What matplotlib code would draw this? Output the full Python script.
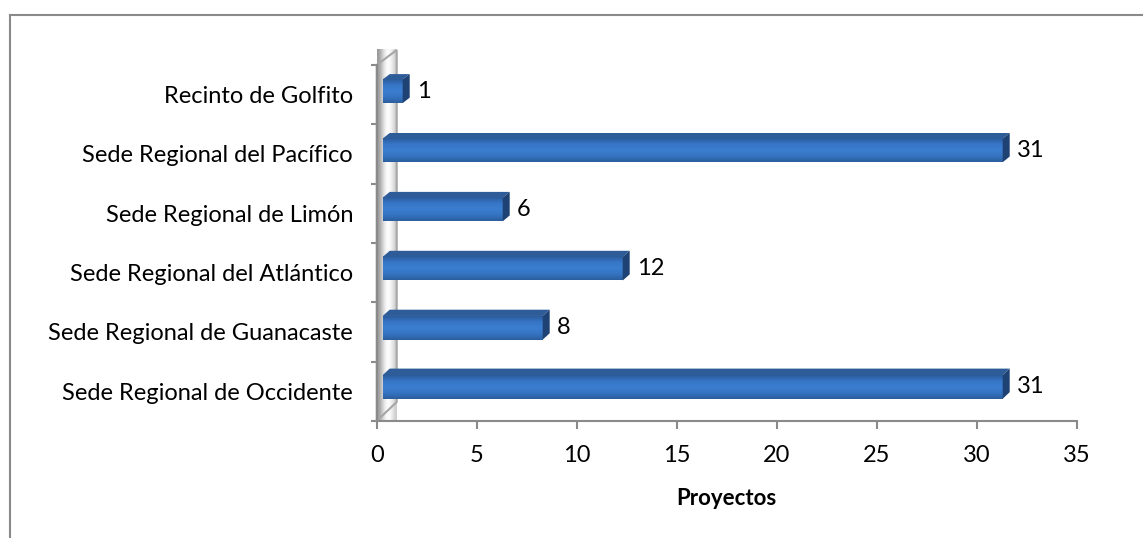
import numpy as np
import matplotlib
matplotlib.use('Agg')
import matplotlib.pyplot as plt
from matplotlib.patches import Polygon
from matplotlib.lines import Line2D
from matplotlib.colors import LinearSegmentedColormap

# ── Data ─────────────────────────────────────────────────────────────────────
categories = ['Sede Regional de Occidente', 'Sede Regional de Guanacaste',
              'Sede Regional del Atlántico', 'Sede Regional de Limón',
              'Sede Regional del Pacífico', 'Recinto de Golfito']
proyectos = [31, 8, 12, 6, 31, 1]
x_ticks = [0, 5, 10, 15, 20, 25, 30, 35]
x_label = 'Proyectos'

# ── Style ────────────────────────────────────────────────────────────────────
FONT = 'Lato'
FS = 17
GRAY = '#8a8a8a'
DEPTH_X = 1.0          # depth of the 3D box in x units
BAR_D0, BAR_D1 = 0.3, 0.65
BAR_Y0, BAR_H = 0.28, 0.40
PX_PER_CAT = 59.33

plt.rcParams['font.family'] = [FONT, 'DejaVu Sans']


def depth_dy(y):
    # vertical shift of the depth axis, slightly perspective
    return (19 - 4 * y / 6) / PX_PER_CAT


def proj(x, y, d):
    return x + d * DEPTH_X, y + d * depth_dy(y)


fig = plt.figure(figsize=(11.43, 5.38), dpi=100)
ax = fig.add_axes([376.7 / 1143, 117 / 538, 700 / 1143, 356 / 538])
n = len(categories)

# ── Side wall ────────────────────────────────────────────────────────────────
wall = Polygon([proj(0, 0, 0), proj(0, n, 0), proj(0, n, 1), proj(0, 0, 1)],
               closed=True, facecolor='none', edgecolor='#a6a6a6', lw=1.5,
               zorder=3, clip_on=False)
ax.add_patch(wall)
wall_grad = np.array([[0.6, 0.7, 0.84, 0.96, 1.0, 0.96, 0.88, 0.8]])
top_y = proj(0, n, 1)[1]
im = ax.imshow(wall_grad, cmap='gray', vmin=0, vmax=1, aspect='auto',
               extent=[0, DEPTH_X, 0, top_y], interpolation='bicubic',
               zorder=2, clip_on=False)
im.set_clip_path(wall)

# ── Bars ─────────────────────────────────────────────────────────────────────
bar_cmap = LinearSegmentedColormap.from_list(
    'bar', ['#2b5b9b', '#3776c6', '#3b7dd0', '#3574c2', '#2c5e9e'])
grad = np.linspace(0, 1, 64).reshape(-1, 1)
for i, v in enumerate(proyectos):
    y0, y1 = i + BAR_Y0, i + BAR_Y0 + BAR_H
    fx0, fy0 = proj(0, y0, BAR_D0)
    fx1, fy1 = proj(v, y1, BAR_D0)
    ax.imshow(grad, cmap=bar_cmap, aspect='auto', origin='upper',
              extent=[fx0, fx1, fy0, fy1], zorder=4, interpolation='bilinear')
    top = [proj(0, y1, BAR_D0), proj(v, y1, BAR_D0),
           proj(v, y1, BAR_D1), proj(0, y1, BAR_D1)]
    side = [proj(v, y0, BAR_D0), proj(v, y1, BAR_D0),
            proj(v, y1, BAR_D1), proj(v, y0, BAR_D1)]
    ax.add_patch(Polygon(top, closed=True, facecolor='#2d5c98',
                         edgecolor='none', zorder=4))
    ax.add_patch(Polygon(side, closed=True, facecolor='#1f4274',
                         edgecolor='none', zorder=4))
    ax.text(fx1 + 0.7, (fy0 + fy1) / 2, str(v), ha='left', va='center',
            fontsize=FS, color='black', zorder=5)

# ── Axes ─────────────────────────────────────────────────────────────────────
ax.set_xlim(0, 35)
ax.set_ylim(0, n)
ax.set_aspect('auto')
ax.patch.set_visible(False)
for s in ['top', 'right']:
    ax.spines[s].set_visible(False)
for s in ['left', 'bottom']:
    ax.spines[s].set_color(GRAY)
    ax.spines[s].set_linewidth(1.5)
    ax.spines[s].set_zorder(6)

ax.set_xticks(x_ticks)
ax.set_xticklabels([str(t) for t in x_ticks])
ax.tick_params(axis='x', length=6, width=1.5, color=GRAY, pad=11,
               labelsize=FS)
ax.set_yticks(range(n + 1))
ax.set_yticklabels([])
ax.tick_params(axis='y', which='major', length=4.5, width=1.5, color=GRAY)
ax.set_yticks([i + 0.5 for i in range(n)], minor=True)
ax.set_yticklabels(categories, minor=True)
ax.tick_params(axis='y', which='minor', length=0, pad=17, labelsize=FS)
ax.set_xlabel(x_label, fontsize=FS - 1, fontweight='bold', labelpad=16)

# outer chart frame (only top and left edges are in view)
fig.add_artist(Line2D([10 / 1143, 1], [1 - 14.5 / 538] * 2,
                      transform=fig.transFigure, color=GRAY, lw=1.5))
fig.add_artist(Line2D([10 / 1143] * 2, [0, 1 - 14.5 / 538],
                      transform=fig.transFigure, color=GRAY, lw=1.5))

fig.savefig('out.png', dpi=100)
